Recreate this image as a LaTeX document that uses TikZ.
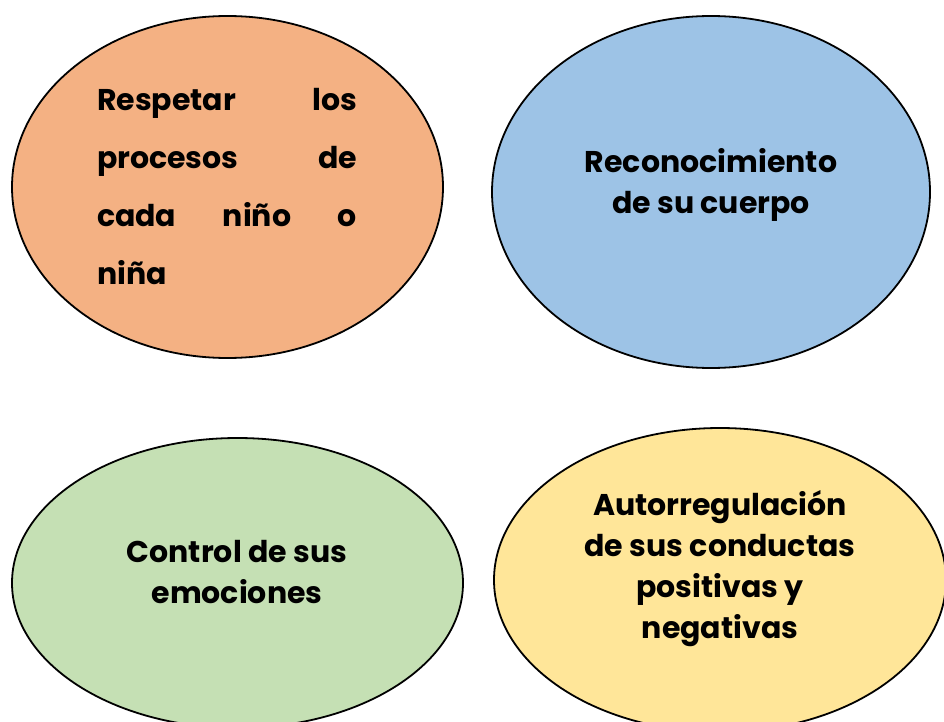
\documentclass[tikz,border=0pt]{standalone}
\usepackage{fontspec}
\setmainfont{Poppins}
\usepackage{tikz}
\usetikzlibrary{shapes, positioning}

\definecolor{naranja}{HTML}{F4B183}
\definecolor{celeste}{HTML}{9DC3E6}
\definecolor{verde}{HTML}{C5E0B4}
\definecolor{amarillo}{HTML}{FFE699}

\tikzset{
  bubble/.style={draw, ellipse, line width=1.8pt, inner sep=0pt},
  bubbletext/.style={inner sep=0pt, font=\bfseries\fontsize{30}{41}\selectfont}
}

\begin{document}
\begin{tikzpicture}[x=1pt, y=-1pt]
\useasboundingbox (0,0) rectangle (944,722);

\node[bubble, fill=naranja, minimum width=431pt, minimum height=342pt] (resp) at (227.5,187) {};
\node[bubble, fill=celeste, minimum width=438pt, minimum height=352pt] (reco) at (711,192) {};
\node[bubble, fill=verde, minimum width=451pt, minimum height=290pt] (ctrl) at (237.5,583) {};
\node[bubble, fill=amarillo, minimum width=452pt, minimum height=304pt] (auto) at (720,580) {};

\node[bubbletext, font=\bfseries\fontsize{30}{58}\selectfont, text width=260pt, align=justify] (resptxt) at (227,187)
  {Respetar los\linebreak procesos de\linebreak cada niño o\linebreak niña};
\node[bubbletext, align=center] (recotxt) at (711,185) {Reconocimiento\\de su cuerpo};
\node[bubbletext, align=center] (ctrltxt) at (237,572.5) {Control de sus\\emociones};
\node[bubbletext, align=center] (autotxt) at (720,569) {Autorregulación\\de sus conductas\\positivas y\\negativas};

\end{tikzpicture}
\end{document}
